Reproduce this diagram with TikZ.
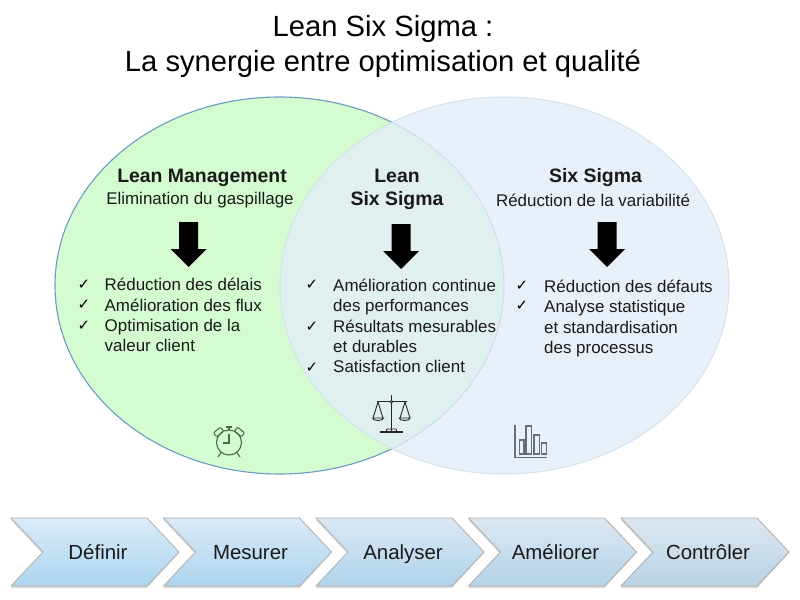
\documentclass[tikz,border=0pt]{standalone}
\usepackage{fontspec}
\setmainfont{Liberation Sans}
\newfontfamily\symf{DejaVu Sans}
\definecolor{leanfill}{HTML}{D5FCD0}
\definecolor{sixfill}{HTML}{E3EEF8}
\definecolor{leanline}{HTML}{6A9BC3}
\definecolor{sixline}{HTML}{D5E2EC}
\definecolor{ink}{HTML}{1A1A1A}
\definecolor{icongreen}{HTML}{4A6A4A}
\definecolor{icongrey}{HTML}{666E77}
\definecolor{DA1}{HTML}{DCECF8}\definecolor{DB1}{HTML}{ABD5F0}
\definecolor{DA2}{HTML}{DBEAF6}\definecolor{DB2}{HTML}{ADD4EE}
\definecolor{DA3}{HTML}{DBE9F4}\definecolor{DB3}{HTML}{B0D3EB}
\definecolor{DA4}{HTML}{DCE8F2}\definecolor{DB4}{HTML}{B4D2E8}
\definecolor{DA5}{HTML}{DDE8F0}\definecolor{DB5}{HTML}{B9D2E5}
\tikzset{
 x=1bp,y=-1bp,
 titletext/.style={font=\fontsize{29.3}{36}\selectfont,text=black,align=center},
 headtext/.style={font=\bfseries\fontsize{19.5}{23}\selectfont,text=ink,align=center},
 subtext/.style={font=\fontsize{17}{20}\selectfont,text=ink},
 itemtext/.style={font=\fontsize{17}{20.5}\selectfont,text=ink,align=left,anchor=north west,inner sep=0pt},
 checktext/.style={font=\symf\fontsize{15}{15}\selectfont,text=black,inner sep=0pt},
 steptext/.style={font=\fontsize{20.5}{24}\selectfont,text=ink,anchor=base},
 downarrow/.style={fill=black,draw=none},
 chevshadow/.style={fill=black!15,draw=none},
}
% #1 left x, #2 node name, #3 label, #4 top colour, #5 bottom colour
\newcommand{\chevron}[5]{%
 \fill[chevshadow] (#1,520) -- ++(136,0) -- ++(32,33) -- ++(-32,35) -- ++(-136,0) -- ++(32,-34) -- cycle;
 \draw[draw=black!32,line width=0.8bp,top color=#4,bottom color=#5] (#1,518) -- ++(136,0) -- ++(32,34) -- ++(-32,34) -- ++(-136,0) -- ++(32,-34) -- cycle;
 \node[steptext] (#2) at (#1+87,559) {#3};}
\newcommand{\bigdown}[2]{\fill[downarrow] (#1-9.5,#2) -- (#1+9.5,#2) -- (#1+9.5,#2+27) -- (#1+18,#2+27) -- (#1,#2+45) -- (#1-18,#2+27) -- (#1-9.5,#2+27) -- cycle;}
\begin{document}
\begin{tikzpicture}
\useasboundingbox (0,0) rectangle (800,600);
\fill[white] (0,0) rectangle (800,600);
\node[titletext] (title) at (383,46.5) {Lean Six Sigma :\\La synergie entre optimisation et qualité};
% circles
\draw[fill=leanfill,draw=leanline,line width=1.1bp] (279.5,285.5) ellipse [x radius=224.5,y radius=188.5];
\draw[fill=sixfill,fill opacity=0.82,draw=sixline,line width=1bp] (504.5,285.5) ellipse [x radius=224.5,y radius=188.5];
% headings
\node[headtext] (h1) at (202,178) {Lean Management};
\node[subtext] (s1) at (200,200) {Elimination du gaspillage};
\node[headtext] (h2) at (397,189) {Lean\\Six Sigma};
\node[headtext] (h3) at (595.5,178) {Six Sigma};
\node[subtext] (s3) at (593,200) {Réduction de la variabilité};
\bigdown{188.5}{222}
\bigdown{401}{224}
\bigdown{607}{222}
% left list
\node[itemtext] (l1) at (104.5,278) {Réduction des délais\\Amélioration des flux\\Optimisation de la\\valeur client};
\node[checktext] at (84,285) {✓};
\node[checktext] at (84,305) {✓};
\node[checktext] at (84,326) {✓};
% mid list
\node[itemtext] (m1) at (333,278.5) {Amélioration continue\\des performances\\Résultats mesurables\\et durables\\Satisfaction client};
\node[checktext] at (312,285) {✓};
\node[checktext] at (312,327) {✓};
\node[checktext] at (312,368) {✓};
% right list
\node[itemtext] (r1) at (544,279.5) {Réduction des défauts\\Analyse statistique\\et standardisation\\des processus};
\node[checktext] at (522,286) {✓};
\node[checktext] at (522,306) {✓};
% clock
\begin{scope}[draw=icongreen,line width=1.1bp]
\draw (229,442.5) circle (12.5);
\draw (229,434) -- (229,443) -- (223,443);
\draw (229,430) -- (229,427) (226,427) -- (232,427);
\draw[rounded corners=1bp,rotate around={40:(218.5,432)}] (214,429.5) rectangle (223,434.5);
\draw[rounded corners=1bp,rotate around={-40:(239.5,432)}] (235,429.5) rectangle (244,434.5);
\draw (221.5,452) -- (218,457) (236.5,452) -- (240,457);
\end{scope}
% scales
\begin{scope}[draw=black!85,line width=0.9bp]
\draw (391.5,395) -- (391.5,432);
\draw (377,401.7) -- (406.5,401.7);
\filldraw[fill=white] (391.5,401.7) circle (1.2);
\draw (378,402) -- (373,418) (378,402) -- (383,418);
\draw (405,402) -- (400,418) (405,402) -- (410,418);
\draw (372.5,418) -- (383.5,418) arc (0:180:5.5 and 2.5);
\draw (399,418) -- (410,418) arc (0:180:5.5 and 2.5);
\draw (386,432) -- (387,429) -- (396,429) -- (397,432);
\draw[line width=1.1bp] (380,432) -- (403,432);
\end{scope}
% chart
\begin{scope}[draw=icongrey,line width=1.1bp]
\draw (515,425) -- (515,457.3) -- (547,457.3);
\draw (519.5,440) rectangle (524,454);
\draw (526,426) rectangle (531.7,454);
\draw (534,435) rectangle (539.5,454);
\draw (541.7,443) rectangle (546.7,454);
\end{scope}
% chevrons
\chevron{11}{c1}{Définir}{DA1}{DB1}
\chevron{163.5}{c2}{Mesurer}{DA2}{DB2}
\chevron{316}{c3}{Analyser}{DA3}{DB3}
\chevron{468.5}{c4}{Améliorer}{DA4}{DB4}
\chevron{621}{c5}{Contrôler}{DA5}{DB5}
\end{tikzpicture}
\end{document}
